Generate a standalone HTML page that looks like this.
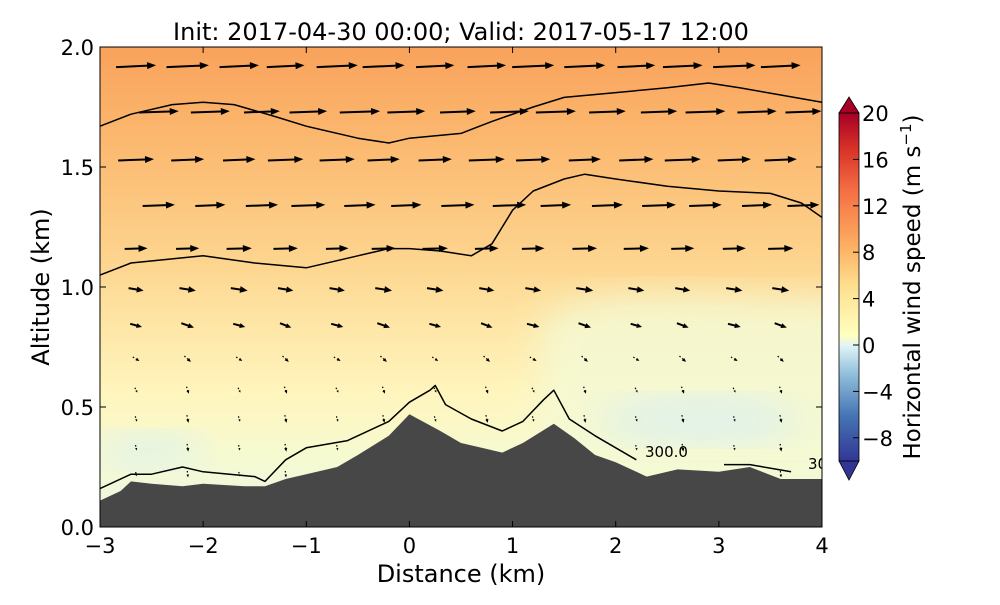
<!DOCTYPE html>
<html><head><meta charset="utf-8"><style>
body{margin:0;background:#fff;}
svg text{font-family:"DejaVu Sans","Liberation Sans",sans-serif;}
</style></head><body>
<svg id="chart" width="1000" height="600" xmlns="http://www.w3.org/2000/svg">
<defs>
<linearGradient id="bg" x1="0" y1="0" x2="0" y2="1" gradientUnits="objectBoundingBox">
<stop offset="0" stop-color="#f9a25c"/><stop offset="0.15" stop-color="#fbb36a"/>
<stop offset="0.3" stop-color="#fcc47c"/><stop offset="0.45" stop-color="#fdd58f"/>
<stop offset="0.58" stop-color="#fee6a6"/><stop offset="0.72" stop-color="#fff5bd"/>
<stop offset="0.85" stop-color="#f6fad0"/><stop offset="1" stop-color="#eaf6e8"/>
</linearGradient>
<linearGradient id="cb" x1="0" y1="1" x2="0" y2="0">
<stop offset="0" stop-color="#313695"/><stop offset="0.13" stop-color="#4575b4"/>
<stop offset="0.25" stop-color="#91bfdb"/><stop offset="0.33" stop-color="#e0f3f8"/>
<stop offset="0.36" stop-color="#ffffbf"/><stop offset="0.5" stop-color="#fee090"/>
<stop offset="0.62" stop-color="#fdae61"/><stop offset="0.78" stop-color="#f46d43"/>
<stop offset="0.9" stop-color="#d73027"/><stop offset="1" stop-color="#a50026"/>
</linearGradient>
<filter id="blur"><feGaussianBlur stdDeviation="18"/></filter>
<clipPath id="pc"><rect x="100" y="47" width="722" height="480"/></clipPath>
</defs>
<g id="plot" clip-path="url(#pc)"></g>
<rect x="100" y="47" width="722" height="480" fill="none" stroke="#000" stroke-width="1"/>
<g id="axes"></g>
<text x="461" y="40" font-size="24" text-anchor="middle">Init: 2017-04-30 00:00; Valid: 2017-05-17 12:00</text>
<text x="461" y="582" font-size="24" text-anchor="middle">Distance (km)</text>
<text transform="translate(49,287) rotate(-90)" font-size="24" text-anchor="middle">Altitude (km)</text>
<g>
<path d="M839,113 L849,97 L859,113 Z" fill="#a50026" stroke="#000" stroke-width="0.8"/>
<path d="M839,461 L849,480 L859,461 Z" fill="#313695" stroke="#000" stroke-width="0.8"/>
<rect x="839" y="113" width="20" height="348" fill="url(#cb)" stroke="#000" stroke-width="0.8"/>
<g id="cbticks"></g>
<text transform="translate(920,287) rotate(-90)" font-size="23" text-anchor="middle">Horizontal wind speed (m s<tspan dy="-9" font-size="15">−1</tspan><tspan dy="9">)</tspan></text>
</g>
</svg>
<script>
const NS="http://www.w3.org/2000/svg";
const terrainX=[-3,-2.8,-2.7,-2.5,-2.2,-2,-1.6,-1.4,-1.2,-1,-0.7,-0.5,-0.2,0,0.3,0.5,0.7,0.9,1.1,1.4,1.6,1.8,2,2.3,2.6,3,3.3,3.6,4];
const terrainZ=[0.11,0.15,0.19,0.18,0.17,0.18,0.17,0.17,0.2,0.22,0.25,0.3,0.38,0.47,0.4,0.35,0.33,0.31,0.35,0.43,0.37,0.3,0.27,0.21,0.24,0.23,0.25,0.2,0.2];
const c1X=[-3,-2.7,-2.5,-2.2,-2,-1.5,-1.4,-1.2,-1,-0.6,-0.2,0,0.2,0.25,0.35,0.6,0.9,1.1,1.3,1.4,1.55,1.8,2.2];
const c1Z=[0.16,0.22,0.22,0.25,0.23,0.21,0.19,0.28,0.33,0.36,0.44,0.52,0.57,0.59,0.51,0.45,0.4,0.44,0.53,0.57,0.45,0.38,0.28];
const c1bX=[3.05,3.3,3.7];
const c1bZ=[0.26,0.26,0.23];
const c2X=[-3,-2.7,-2,-1.5,-1,-0.5,-0.2,0,0.3,0.6,0.8,1,1.2,1.5,1.7,2,2.5,3,3.5,3.8,4];
const c2Z=[1.05,1.1,1.13,1.1,1.08,1.13,1.16,1.16,1.15,1.13,1.18,1.32,1.4,1.45,1.47,1.45,1.42,1.4,1.39,1.35,1.29];
const c3X=[-3,-2.7,-2.3,-2,-1.7,-1.3,-1,-0.5,-0.2,0,0.5,0.8,1.2,1.5,2,2.5,2.9,3.2,3.6,4];
const c3Z=[1.67,1.72,1.76,1.77,1.76,1.71,1.67,1.62,1.6,1.62,1.64,1.69,1.75,1.79,1.81,1.83,1.85,1.83,1.8,1.77];
const xTicks=[-3,-2,-1,0,1,2,3,4];
const yTicks=[0.0,0.5,1.0,1.5,2.0];
const cbTicks=[20,16,12,8,4,0,-4,-8];
const arrowCols=[-2.65,-2.15,-1.65,-1.2,-0.7,-0.25,0.25,0.75,1.2,1.7,2.2,2.65,3.15,3.6];
const arrowRowZ=[1.92,1.73,1.53,1.34,1.16,0.99,0.84,0.7,0.57,0.45,0.33,0.22];
const arrowRowU=[10,9.5,8.5,8,6,4,3,1.6,0.6,0.4,0.3,0.2];
const arrowRowW=[0.3,0.2,0.2,0.2,0.1,-0.4,-0.7,-0.9,-1.1,-1.2,-1.2,-1.0];
const X=v=>100+(v+3)*722/7, Y=v=>527-v*240, CB=v=>113+(20-v)*348/30;
function el(t,a,p){const e=document.createElementNS(NS,t);for(const k in a)e.setAttribute(k,a[k]);p.appendChild(e);return e;}
function terrainInterp(x){for(let i=0;i<terrainX.length-1;i++){if(x>=terrainX[i]&&x<=terrainX[i+1]){const t=(x-terrainX[i])/(terrainX[i+1]-terrainX[i]);return terrainZ[i]+t*(terrainZ[i+1]-terrainZ[i]);}}return 0.2;}
const plot=document.getElementById('plot'),axes=document.getElementById('axes');
const bg=el('rect',{x:100,y:47,width:722,height:480,fill:'url(#bg)'},plot);


const pale=el('path',{d:'M540,320 C600,280 700,300 860,300 L860,480 L540,480 Z',fill:'#f4f9d4',opacity:0.85,filter:'url(#blur)'},plot);


const blue1=el('ellipse',{cx:700,cy:420,rx:100,ry:24,fill:'#def1ee',opacity:0.9,filter:'url(#blur)'},plot);


const blue2=el('ellipse',{cx:150,cy:450,rx:55,ry:18,fill:'#e0f2ec',opacity:0.9,filter:'url(#blur)'},plot);


const ag=el('g',{},plot);


arrowRowZ.forEach((z,r)=>{
 const stag=(r<5&&r%2==1)?0.22:0;
 arrowCols.forEach((cx,i)=>{
  const u=arrowRowU[r]*(1+0.06*Math.sin(i*1.7+r)), w=arrowRowW[r]*(r>5?(i%2?1:0.7):1);
  const k=4.0, dx=u*k, dy=-w*k*1.6;
  const px=X(cx+stag), py=Y(z);
  if(py>Y(terrainInterp(cx+stag))-4)return;
  const x0=px-dx/2,y0=py-dy/2,x1=px+dx/2,y1=py+dy/2;
  const len=Math.hypot(dx,dy)||1, ux=dx/len, uy=dy/len, h=Math.min(9,len*0.45), hw=Math.min(3.5,len*0.2);
  const a=el('g',{},ag);
  
  
  el('line',{x1:x0,y1:y0,x2:x1-ux*h*0.6,y2:y1-uy*h*0.6,stroke:'#000','stroke-width':r>6?1.2:2,'stroke-dasharray':r>6?'1.5,2':'none'},a);
  el('path',{d:`M${x1},${y1} L${x1-ux*h-uy*hw},${y1-uy*h+ux*hw} L${x1-ux*h+uy*hw},${y1-uy*h-ux*hw} Z`,fill:'#000'},a);
 });
});
function line(xs,zs,name){const p=el('polyline',{points:xs.map((x,i)=>X(x)+','+Y(zs[i])).join(' '),fill:'none',stroke:'#000','stroke-width':1.5,'stroke-linejoin':'round'},plot);}
line(c1X,c1Z,'theta-contour-300');line(c1bX,c1bZ,'theta-contour-300-right');line(c2X,c2Z,'theta-contour-mid');line(c3X,c3Z,'theta-contour-upper');
const lab=el('text',{x:645,y:457,'font-size':15},plot);lab.textContent='300.0';


const lab2=el('text',{x:808,y:469,'font-size':15},plot);lab2.textContent='300.0';


const ter=el('polygon',{points:terrainX.map((x,i)=>X(x)+','+Y(terrainZ[i])).join(' ')+` ${X(4)},527 ${X(-3)},527`,fill:'#474747'},plot);


xTicks.forEach(v=>{const x=X(v);el('line',{x1:x,y1:527,x2:x,y2:521,stroke:'#000'},axes);el('line',{x1:x,y1:47,x2:x,y2:53,stroke:'#000'},axes);
 const t=el('text',{x:x,y:553,'font-size':21,'text-anchor':'middle'},axes);t.textContent=v<0?'−'+(-v):v;
 
 });
yTicks.forEach(v=>{const y=Y(v);el('line',{x1:100,y1:y,x2:106,y2:y,stroke:'#000'},axes);el('line',{x1:822,y1:y,x2:816,y2:y,stroke:'#000'},axes);
 const t=el('text',{x:94,y:y+8,'font-size':21,'text-anchor':'end'},axes);t.textContent=v.toFixed(1);
 
 });
const cbt=document.getElementById('cbticks');
cbTicks.forEach(v=>{const y=CB(v);el('line',{x1:853,y1:y,x2:859,y2:y,stroke:'#000'},cbt);
 const t=el('text',{x:862,y:y+8,'font-size':21},cbt);t.textContent=v<0?'−'+(-v):v;
 
 });
</script>
</body></html>
